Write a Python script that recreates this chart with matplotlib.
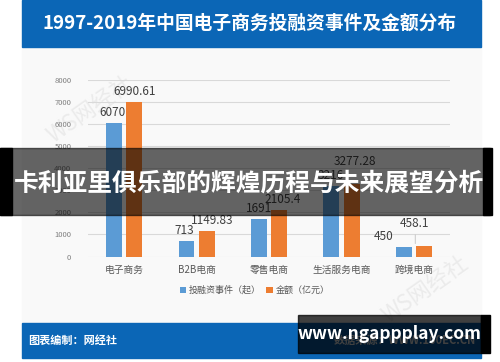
import matplotlib.pyplot as plt
import numpy as np
from matplotlib.patches import Rectangle

plt.rcParams['font.family'] = ['Noto Sans CJK SC', 'DejaVu Sans']

# data
categories = ["电子商务", "B2B电商", "零售电商", "生活服务电商", "跨境电商"]
events = [6070, 713, 1691, 3216, 450]
amounts = [6990.61, 1149.83, 2105.4, 3277.28, 458.1]
yticks = [0, 1000, 2000, 3000, 4000, 5000, 6000, 7000, 8000]

W, H = 500, 362
fig = plt.figure(figsize=(5, 3.62), dpi=100)
fig.patch.set_facecolor("white")

def box(x0, y0, x1, y1, **kw):
    # rectangle in pixel coords (top-left origin)
    fig.patches.append(Rectangle((x0 / W, 1 - y1 / H), (x1 - x0) / W, (y1 - y0) / H,
                                 transform=fig.transFigure, **kw))

box(22, 48, 481, 322, color="#f9f9f9", zorder=-2)
box(22, 0, 481, 47, color="#0b66b6", zorder=1)
box(22, 323, 481, 358, color="#0b66b6", zorder=1)
fig.text(250 / W, 1 - 23 / H, "1997-2019年中国电子商务投融资事件及金额分布", color="white",
         fontsize=13.5, fontweight="heavy", ha="center", va="center")
fig.text(28 / W, 1 - 340 / H, "图表编制：网经社", color="white", fontsize=8,
         fontweight="bold", ha="left", va="center")
fig.text(476 / W, 1 - 340 / H, "数据来源：WWW.100EC.CN", color="white", fontsize=8,
         fontweight="bold", ha="right", va="center")

# watermarks
fig.text(90 / W, 1 - 110 / H, "WS网经社", color="#ebebeb", fontsize=16, rotation=35,
         ha="center", va="center", zorder=-1)
fig.text(425 / W, 1 - 290 / H, "WS网经社", color="#ebebeb", fontsize=16, rotation=35,
         ha="center", va="center", zorder=-1)

# plot area
ax = fig.add_axes([88 / W, 1 - 256.5 / H, (450 - 88) / W, (256.5 - 80) / H])
ax.set_zorder(2)
ax.set_facecolor("none")
x = np.arange(len(categories))
bw = 0.22
b1 = ax.bar(x - 0.14, events, bw, color="#5b9bd5", label="投融资事件（起）", zorder=3)
b2 = ax.bar(x + 0.14, amounts, bw, color="#ed7d31", label="金额（亿元）", zorder=3)
ax.set_xlim(-0.5, len(categories) - 0.5)
ax.set_ylim(0, 8000)
ax.set_yticks(yticks)
ax.set_yticklabels([str(t) for t in yticks], fontsize=5.5, color="#7f7f7f")
ax.set_xticks(x)
ax.set_xticklabels(categories, fontsize=7, color="#595959")
ax.tick_params(length=0, pad=6)
ax.tick_params(axis="y", pad=12)
ax.grid(axis="y", color="#d9d9d9", linewidth=0.8, zorder=0)
for s in ax.spines.values():
    s.set_visible(False)

# value labels (offsets in pixels, as placed in the source chart)
off1 = [(-2, 4), (-2, 4), (0, 4), (0, 4), (-20, 4)]
off2 = [(0, 4), (5, 4), (3, 4), (3, 16), (-9, 16)]
for i in range(len(categories)):
    ax.annotate(str(events[i]), (x[i] - 0.14, events[i]), xytext=off1[i],
                textcoords="offset pixels", ha="center", va="bottom",
                fontsize=8.5, color="#404040", zorder=4)
    ax.annotate(f"{amounts[i]:g}", (x[i] + 0.14, amounts[i]), xytext=off2[i],
                textcoords="offset pixels", ha="center", va="bottom",
                fontsize=8.5, color="#404040", zorder=4)
# leader line for the lifted label
ax.annotate("", (x[4] + 0.02, amounts[4]), xytext=(x[4] + 0.02, amounts[4] + 650),
            arrowprops=dict(arrowstyle="-", color="#bfbfbf", lw=0.6))

ax.legend(loc="upper center", bbox_to_anchor=(0.46, -0.12), ncol=2, frameon=False,
          fontsize=6.5, handlelength=0.7, handleheight=0.7, columnspacing=0.6,
          handletextpad=0.3, labelcolor="#595959")

# overlay banners
box(0, 148, 490, 215, color="black", alpha=0.6, zorder=10)
box(0, 148, 12, 215, color="black", zorder=10)
box(483, 148, 492, 215, color="black", zorder=10)
fig.text(249 / W, 1 - 184 / H, "卡利亚里俱乐部的辉煌历程与未来展望分析", color="white",
         fontsize=17.8, fontweight="bold", ha="center", va="center", zorder=11)
box(298, 315, 481, 353, color="black", alpha=0.75, zorder=10)
box(481, 315, 490, 353, color="black", zorder=10)
fig.text(389 / W, 1 - 334 / H, "www.ngappplay.com", color="white", fontsize=12.5,
         fontweight="bold", ha="center", va="center", zorder=11)

fig.savefig("out.png", dpi=100)
